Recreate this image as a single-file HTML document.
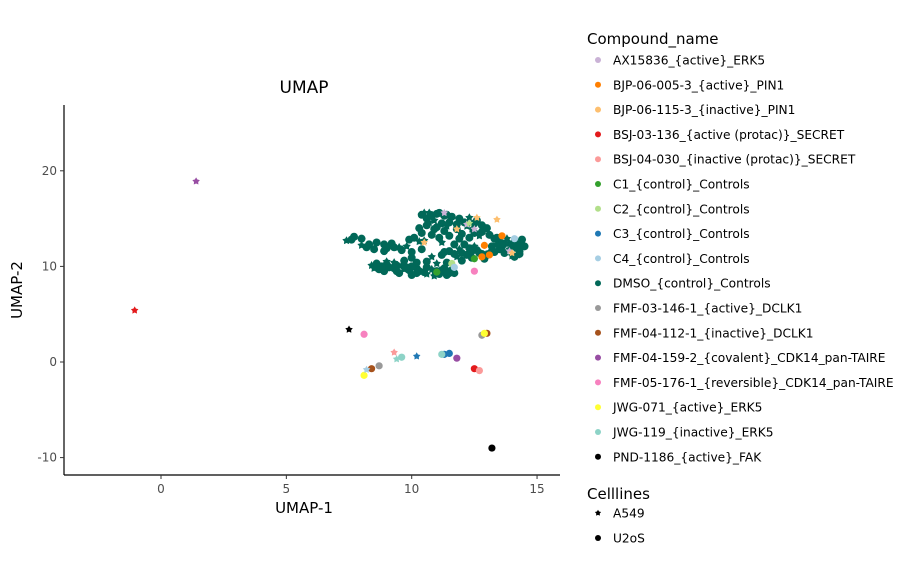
<!DOCTYPE html>
<html><head><meta charset="utf-8">
<style>
html,body{margin:0;padding:0;background:#fff;}
svg{display:block;font-family:"DejaVu Sans","Liberation Sans",sans-serif;}
</style></head>
<body>
<svg id="chart" width="921" height="576" viewBox="0 0 921 576">
  <text x="304" y="93" font-size="17" text-anchor="middle" fill="#000">UMAP</text>
  <g id="plot"></g>
  <line x1="64" y1="105" x2="64" y2="475" stroke="#000" stroke-width="1.2"/>
  <line x1="64" y1="475" x2="560" y2="475" stroke="#000" stroke-width="1.2"/>
  <g id="xticks"></g>
  <g id="yticks"></g>
  <text x="304" y="513" font-size="15" text-anchor="middle">UMAP-1</text>
  <text transform="translate(22,290) rotate(-90)" font-size="15" text-anchor="middle">UMAP-2</text>
  <g id="legend"></g>
</svg>
<script>
const compounds = ["AX15836_{active}_ERK5","BJP-06-005-3_{active}_PIN1","BJP-06-115-3_{inactive}_PIN1","BSJ-03-136_{active (protac)}_SECRET","BSJ-04-030_{inactive (protac)}_SECRET","C1_{control}_Controls","C2_{control}_Controls","C3_{control}_Controls","C4_{control}_Controls","DMSO_{control}_Controls","FMF-03-146-1_{active}_DCLK1","FMF-04-112-1_{inactive}_DCLK1","FMF-04-159-2_{covalent}_CDK14_pan-TAIRE","FMF-05-176-1_{reversible}_CDK14_pan-TAIRE","JWG-071_{active}_ERK5","JWG-119_{inactive}_ERK5","PND-1186_{active}_FAK"];
const colors = ["#cab2d6","#ff7f00","#fdbf6f","#e31a1c","#fb9a99","#33a02c","#b2df8a","#1f78b4","#a6cee3","#016858","#999999","#a6521c","#984ea3","#f781bf","#ffff33","#8dd3c7","#000000"];
const xTicks = [0,5,10,15];
const yTicks = [-10,0,10,20];
// DMSO cloud points
const dmsoX = [7.4,7.7,8.0,8.3,8.0,8.6,8.9,9.2,9.5,9.0,8.5,8.2,9.8,9.9,10.1,10.4,10.7,11.0,11.3,10.6,10.9,11.2,10.6,10.9,11.4,10.4,10.8,11.1,10.5,11.6,11.9,12.1,12.3,12.6,12.8,13.0,12.4,11.8,12.0,11.5,11.2,11.7,13.3,13.5,13.8,14.1,14.4,13.6,14.0,14.3,13.3,13.7,14.2,13.0,12.7,11.5,11.9,12.3,12.6,12.2,11.8,12.4,12.9,12.0,8.4,8.7,9.0,9.3,9.6,9.9,10.2,10.5,10.8,11.1,11.4,11.3,11.0,10.6,10.2,9.7,9.3,8.9,9.5,10.0,10.9,11.6,11.4,11.2,10.8,10.4,10.0,9.6,13.9,14.2,10.3,11.5,
  8.5,8.8,9.1,9.4,9.7,10.0,10.3,10.6,10.9,11.2,11.5,8.6,9.0,9.4,9.8,10.2,10.6,11.0,11.4,11.7,10.5,10.8,11.1,11.4,10.7,11.0,11.3,11.8,12.2,12.5,12.8,12.3,12.7,13.1,13.4,13.7,14.0,14.3,14.5,13.5,13.9,14.3,13.2,13.6,14.0,12.0,12.4,12.8,13.1,11.3,11.7,12.1,12.5,7.6,8.9,9.3,10.3,10.0,11.9,12.5,13.4,14.1];
const dmsoY = [12.7,13.1,12.9,12.3,12.2,12.5,12.3,12.4,12.0,11.9,11.8,12.0,12.1,12.8,13.0,15.4,15.6,15.5,15.3,15.0,14.8,14.5,14.3,13.9,14.2,13.5,13.3,13.0,12.7,15.2,15.0,14.6,15.1,14.8,14.3,14.0,13.9,13.9,13.4,13.2,12.5,12.3,12.9,12.6,12.9,12.6,12.8,12.1,12.0,11.6,11.5,11.4,11.2,11.2,11.4,11.6,11.8,11.9,11.7,11.2,11.0,10.9,10.8,10.6,10.1,9.7,10.2,9.8,10.1,9.6,9.8,9.4,9.7,9.2,9.1,9.8,10.3,10.5,10.4,10.6,10.4,9.5,9.3,9.1,9.0,9.6,10.4,11.2,11.0,11.8,11.5,11.7,12.4,11.9,14.0,14.6,
  9.8,10.0,9.9,10.1,9.7,10.0,9.5,9.9,9.4,9.6,9.3,10.3,10.5,9.5,9.9,9.3,9.2,9.5,9.5,9.3,15.6,15.3,15.6,15.4,14.6,14.1,13.7,14.4,14.2,14.5,13.6,13.0,13.2,13.3,13.0,12.4,12.3,12.3,12.1,11.8,11.8,11.3,12.1,12.4,11.1,11.4,11.6,11.3,11.5,11.5,11.3,12.3,12.1,12.8,11.6,12.0,12.6,10.9,12.9,13.5,12.3,11.0];
// Other points: compound index, x, y, cell line (0=A549 star,1=U2OS circle)
const otherC = [0,0,0,1,1,1,2,2,2,2,5,5,6,6,8,8,13,13,12,12,3,3,4,4,7,7,7,15,15,15,10,10,11,11,14,14,8,16,16,1,0,2];
const otherX = [11.3,12.2,13.9,13.6,13.1,12.8,11.8,12.6,10.5,14.0,11.0,12.5,11.6,12.3,11.7,14.1,12.5,8.1,11.8,1.4,-1.05,12.5,9.3,12.7,11.3,11.5,10.2,9.6,9.4,11.2,8.7,12.8,8.4,13.0,8.1,12.9,8.2,7.5,13.2,12.9,12.5,13.4];
const otherY = [15.6,14.4,11.6,13.2,11.2,11.0,13.9,15.1,12.5,11.4,9.4,10.8,10.3,14.5,9.9,12.9,9.5,2.9,0.4,18.9,5.4,-0.7,1.0,-0.9,0.8,0.9,0.6,0.5,0.3,0.8,-0.4,2.8,-0.7,3.0,-1.4,3.0,-0.8,3.4,-9.0,12.2,13.9,14.9];
const otherL = [0,0,0,1,1,1,0,0,0,0,1,1,1,0,1,1,1,1,1,0,0,1,0,1,1,1,0,1,0,1,1,1,1,1,1,1,0,0,1,1,0,0];
const celllines = ["A549","U2oS"];

const NS="http://www.w3.org/2000/svg";
const X = v => 161 + v*25.07;
const Y = v => 362 - v*9.56;
const plot=document.getElementById('plot');
function starPath(cx,cy,r){let d="";for(let i=0;i<10;i++){const rr=i%2?r*0.55:r;const a=-Math.PI/2+i*Math.PI/5;d+=(i?"L":"M")+(cx+rr*Math.cos(a)).toFixed(2)+","+(cy+rr*Math.sin(a)).toFixed(2);}return d+"Z";}
function mark(cx,cy,col,shape,r){
  let el;
  if(shape===0){el=document.createElementNS(NS,'path');el.setAttribute('d',starPath(cx,cy,r*1.1));}
  else{el=document.createElementNS(NS,'circle');el.setAttribute('cx',cx);el.setAttribute('cy',cy);el.setAttribute('r',r);}
  el.setAttribute('fill',col);
  return el;
}
for(let i=0;i<dmsoX.length;i++){
  const el=mark(X(dmsoX[i]),Y(dmsoY[i]),colors[9],i%4===0?0:1,4.0);
  
  
  plot.appendChild(el);
}
for(let i=0;i<otherX.length;i++){
  const el=mark(X(otherX[i]),Y(otherY[i]),colors[otherC[i]],otherL[i],3.6);
  
  
  plot.appendChild(el);
}
const xt=document.getElementById('xticks');
xTicks.forEach(t=>{
  const l=document.createElementNS(NS,'line');l.setAttribute('x1',X(t));l.setAttribute('x2',X(t));l.setAttribute('y1',475);l.setAttribute('y2',479);l.setAttribute('stroke','#333');
  
  
  xt.appendChild(l);
  const tx=document.createElementNS(NS,'text');tx.setAttribute('x',X(t));tx.setAttribute('y',493);tx.setAttribute('font-size','12');tx.setAttribute('fill','#4d4d4d');tx.setAttribute('text-anchor','middle');tx.textContent=t;
  
  
  xt.appendChild(tx);
});
const yt=document.getElementById('yticks');
yTicks.forEach(t=>{
  const l=document.createElementNS(NS,'line');l.setAttribute('x1',60);l.setAttribute('x2',64);l.setAttribute('y1',Y(t));l.setAttribute('y2',Y(t));l.setAttribute('stroke','#333');
  
  
  yt.appendChild(l);
  const tx=document.createElementNS(NS,'text');tx.setAttribute('x',57);tx.setAttribute('y',Y(t)+4);tx.setAttribute('font-size','12');tx.setAttribute('fill','#4d4d4d');tx.setAttribute('text-anchor','end');tx.textContent=t;
  
  
  yt.appendChild(tx);
});
const lg=document.getElementById('legend');
function txt(x,y,s,size,name){const t=document.createElementNS(NS,'text');t.setAttribute('x',x);t.setAttribute('y',y);t.setAttribute('font-size',size);t.textContent=s;lg.appendChild(t);return t;}
txt(587,44,"Compound_name",15,'legend-title-compound');
compounds.forEach((c,i)=>{
  const y=60+i*24.8;
  const m=mark(598,y,colors[i],1,3);
  
  
  lg.appendChild(m);
  txt(613,y+4.5,c,12.2,'legend-entry');
});
txt(587,499,"Celllines",15,'legend-title-cellline');
celllines.forEach((c,i)=>{
  const y=513+i*25;
  const m=mark(598,y,"#000",i===0?0:1,3);
  
  
  lg.appendChild(m);
  txt(613,y+4.5,c,12.2,'legend-entry');
});
</script>
</body></html>
